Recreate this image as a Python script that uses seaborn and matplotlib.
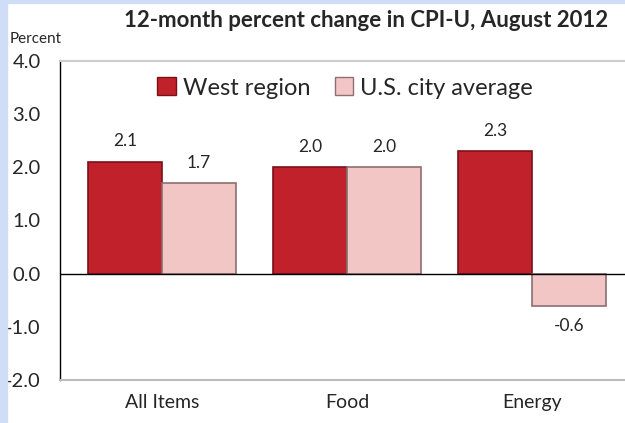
import pandas as pd
import matplotlib.pyplot as plt
import seaborn as sns
from matplotlib.patches import Rectangle

categories = ['All Items', 'Food', 'Energy']
west = [2.1, 2.0, 2.3]
us_avg = [1.7, 2.0, -0.6]
series = ['West region', 'U.S. city average']
colors = ['#C0212B', '#F3C6C6']
edges = ['#7A1118', '#8E6E70']
yticks = [-2.0, -1.0, 0.0, 1.0, 2.0, 3.0, 4.0]

df = pd.DataFrame({
    'category': categories * 2,
    'series': [series[0]] * 3 + [series[1]] * 3,
    'value': west + us_avg,
})

sns.set_style('white')
plt.rcParams['font.family'] = ['Lato', 'DejaVu Sans']

fig = plt.figure(figsize=(6.25, 4.23), dpi=100)
ax = fig.add_axes([0.096, 0.1017, 0.904, 0.7543])

sns.barplot(data=df, x='category', y='value', hue='series', order=categories,
            hue_order=series, palette=colors, saturation=1, width=0.8, ax=ax,
            legend=True)

for cont, ec in zip(ax.containers, edges):
    for bar in cont:
        bar.set_edgecolor(ec)
        bar.set_linewidth(1.2)
    labels = [f'{bar.get_height():.1f}' for bar in cont]
    ax.bar_label(cont, labels=labels, padding=9, fontsize=12.5)

ax.set_ylim(-2.0, 4.0)
ax.set_xlim(-0.55, 2.5)
ax.set_yticks(yticks)
ax.set_yticklabels([f'{t:.1f}' for t in yticks], fontsize=14.5)
ax.tick_params(axis='y', length=0, pad=14)
ax.tick_params(axis='x', length=0, pad=10, labelsize=14)
ax.set_xlabel('')
ax.set_ylabel('')
ax.axhline(0, color='black', linewidth=1)

ax.spines['left'].set_color('black')
ax.spines['left'].set_linewidth(1)
ax.spines['bottom'].set_color('#BBBBBB')
ax.spines['bottom'].set_linewidth(1.5)
ax.spines['top'].set_color('#CCCCCC')
ax.spines['top'].set_linewidth(1.5)
ax.spines['right'].set_visible(False)

leg = ax.legend(loc='upper center', bbox_to_anchor=(0.505, 1.015), ncol=2, frameon=False,
                fontsize=17, handlelength=0.8, handleheight=0.8, handletextpad=0.3,
                columnspacing=1.0)
for h, ec in zip(leg.legend_handles, edges):
    h.set_edgecolor(ec)

fig.text(0.585, 0.952, '12-month percent change in CPI-U, August 2012',
         ha='center', va='center', fontsize=16, fontweight='bold')
fig.text(0.015, 0.908, 'Percent', ha='left', va='center', fontsize=11)

# light blue border strips
fig.patches.append(Rectangle((0, 0), 7 / 625, 1, transform=fig.transFigure,
                             color='#CFDDF7', zorder=0))
fig.patches.append(Rectangle((0, 1 - 3 / 423), 1, 3 / 423, transform=fig.transFigure,
                             color='#CFDDF7', zorder=0))

fig.savefig('out.png', dpi=100)
